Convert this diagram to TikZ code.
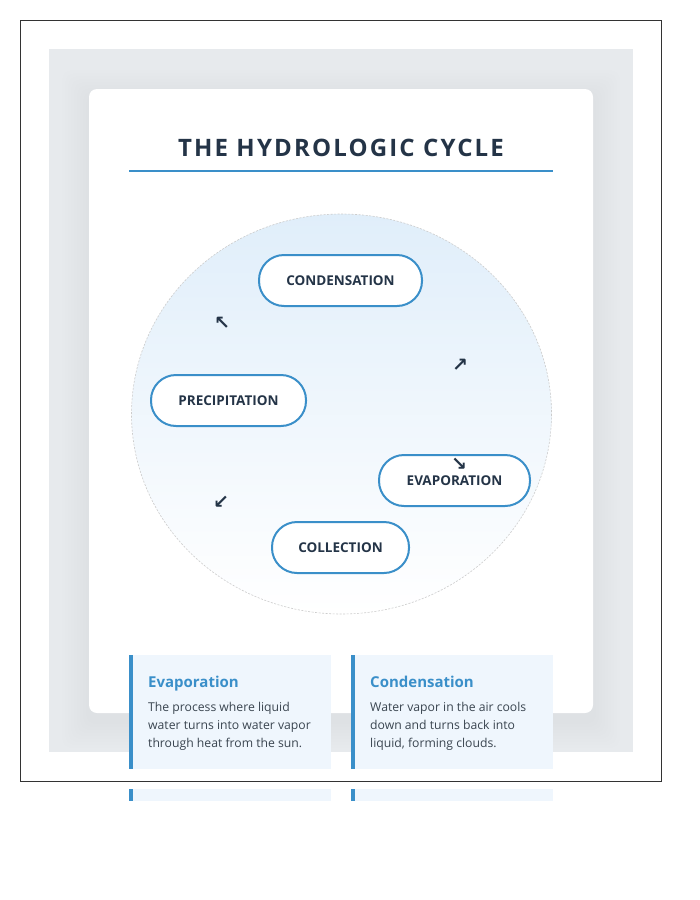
\documentclass[tikz,border=0pt]{standalone}
\usepackage{fontspec}
\setmainfont{Open Sans}
\newfontfamily\titlefont[LetterSpace=9]{Open Sans}
\newfontfamily\arrowfont{DejaVu Sans}
\usetikzlibrary{calc}
\definecolor{navy}{HTML}{243447}
\definecolor{accent}{HTML}{3A8FC9}
\definecolor{bggray}{HTML}{E7EAED}
\definecolor{cardfill}{HTML}{EFF6FD}
\definecolor{bodytext}{HTML}{3A4550}
\definecolor{circtop}{HTML}{E0EEFA}
\definecolor{framegray}{HTML}{333333}
\tikzset{
  pill/.style={draw=accent, line width=2pt, fill=white, rounded corners=25pt,
    minimum height=51pt, inner sep=0pt, font=\bfseries\fontsize{13.5}{16}\selectfont, text=navy},
  arrowglyph/.style={font=\arrowfont\bfseries\fontsize{19}{19}\selectfont, text=navy, inner sep=0pt},
  infobox/.style={fill=cardfill, draw=none, minimum width=202pt, minimum height=114pt, inner sep=0pt},
  infotitle/.style={anchor=base west, inner sep=0pt, text=accent, font=\bfseries\fontsize{15}{18}\selectfont},
  infobody/.style={anchor=north west, inner sep=0pt, text=bodytext, align=left,
    font=\fontsize{12.2}{18}\selectfont},
}
\begin{document}
\begin{tikzpicture}[x=1pt,y=-1pt]
\useasboundingbox (0,0) rectangle (700,900);
\fill[white] (0,0) rectangle (700,900);
% gray backdrop
\fill[bggray] (49,49) rectangle (633,752);
% soft shadow of white card
\begin{scope}
\clip (49,49) rectangle (633,752);
\foreach \i in {3,6,...,27}{
  \fill[black, opacity=0.003, rounded corners=10pt] (89-\i,89-\i+8) rectangle (593+\i,713+\i+8);
}
\end{scope}
\fill[white, rounded corners=8pt] (89,89) rectangle (593,713);
% frame
\draw[framegray, line width=0.8pt] (20,20) rectangle (661,781);
% title
\node[anchor=base, inner sep=0pt, text=navy, font=\titlefont\bfseries\fontsize{24}{28}\selectfont] (title) at (341,156) {THE HYDROLOGIC CYCLE};
\coordinate (ulL) at (129,171);
\coordinate (ulR) at (553,171);
\draw[accent, line width=2pt] (ulL) -- (ulR);
% circle
\shade[top color=circtop, bottom color=white] (341.5,414) ellipse [x radius=210, y radius=200];
\draw[gray!40, line width=0.6pt, dash pattern=on 2pt off 1.5pt] (341.5,414) ellipse [x radius=210, y radius=200];
% pills
\node[pill, minimum width=163pt] (cond) at (340.5,280.5) {CONDENSATION};
\node[pill, minimum width=155pt] (prec) at (228.5,400.5) {PRECIPITATION};
\node[pill, minimum width=151pt] (evap) at (454.5,480.5) {EVAPORATION};
\node[pill, minimum width=137pt] (coll) at (340.5,547.5) {COLLECTION};
% arrows
\node[arrowglyph] (a1) at (222,323) {↖};
\node[arrowglyph] (a2) at (460,365) {↗};
\node[arrowglyph] (a3) at (459,464) {↘};
\node[arrowglyph] (a4) at (221,502) {↙};
% info cards
\node[infobox] (c1) at (230,712) {};
\node[infobox] (c2) at (452,712) {};
\fill[accent] (c1.north west) rectangle ($(c1.south west)+(4,0)$);
\fill[accent] (c2.north west) rectangle ($(c2.south west)+(4,0)$);
\node[infotitle] (t1) at (148,687) {Evaporation};
\node[infotitle] (t2) at (370,687) {Condensation};
\node[infobody] (b1) at (148,702.5) {The process where liquid\\water turns into water vapor\\through heat from the sun.};
\node[infobody] (b2) at (370,702.5) {Water vapor in the air cools\\down and turns back into\\liquid, forming clouds.};
% partial cards below
\node[fill=cardfill, minimum width=202pt, minimum height=12pt, inner sep=0pt] (c3) at (230,795) {};
\node[fill=cardfill, minimum width=202pt, minimum height=12pt, inner sep=0pt] (c4) at (452,795) {};
\fill[accent] (c3.north west) rectangle ($(c3.south west)+(4,0)$);
\fill[accent] (c4.north west) rectangle ($(c4.south west)+(4,0)$);
\end{tikzpicture}
\end{document}
